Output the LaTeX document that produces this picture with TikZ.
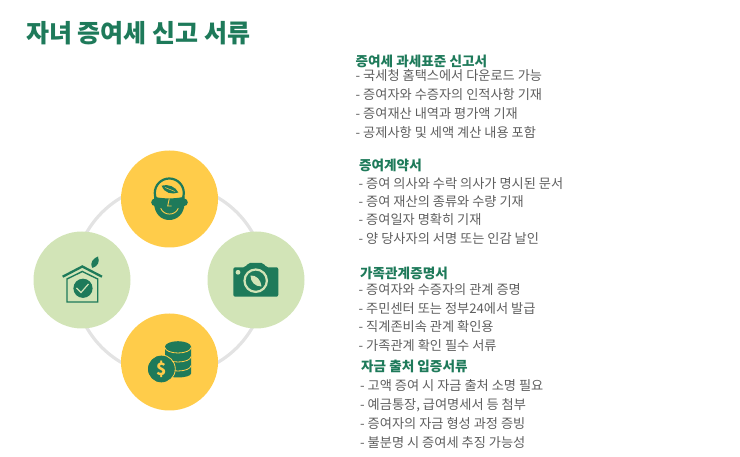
\documentclass[tikz,border=0pt]{standalone}
\usepackage{fontspec}
\usepackage{xcolor}
\setmainfont{Noto Sans CJK KR}
\definecolor{leafgreen}{HTML}{1E7A5A}
\definecolor{palegreen}{HTML}{D2E4B7}
\definecolor{sunyellow}{HTML}{FFCC4A}
\definecolor{ringgray}{HTML}{E3E3E3}
\definecolor{bodygray}{HTML}{5E5E5E}
\tikzset{
  titletext/.style={anchor=base west,inner sep=0pt,font=\fontsize{25}{25}\selectfont\bfseries,text=leafgreen},
  headtext/.style={anchor=base west,inner sep=0pt,yshift=-0.7pt,font=\fontsize{13.6}{14}\selectfont\bfseries,text=leafgreen},
  linetext/.style={anchor=base west,inner sep=0pt,yshift=-0.7pt,font=\fontsize{13.2}{14}\selectfont,text=bodygray},
  yellowdisc/.style={circle,fill=sunyellow,minimum size=97pt,inner sep=0pt},
  greendisc/.style={circle,fill=palegreen,minimum size=97pt,inner sep=0pt},
}

\begin{document}
\begin{tikzpicture}[x=1pt,y=-1pt]
\useasboundingbox (0,0) rectangle (740,457);

%title
\node[titletext] (title) at (26,42.5) {자녀 증여세 신고 서류};

%ring
\coordinate (ringcenter) at (169.5,280);
\draw[ringgray,line width=3.2pt] (ringcenter) circle[radius=95.5];

%discs
\node[yellowdisc] (top) at (169.5,199) {};
\node[greendisc] (right) at (256,280) {};
\node[yellowdisc] (bottom) at (169.5,362) {};
\node[greendisc] (left) at (82,280) {};

%head icon
\draw[leafgreen,line width=2.2pt] (169.3,193) circle[radius=14.5];
\fill[leafgreen] (154,196.5) .. controls (160,199) and (178,199) .. (184.5,196.5) -- (184.5,204)
  .. controls (184,214) and (177,220) .. (169.3,220) .. controls (161,220) and (155,214) .. (154,204) -- cycle;
\fill[leafgreen] (155,202.3) circle[radius=3.8] (184,202.3) circle[radius=3.8];
\fill[leafgreen] (161.7,185.7) .. controls (168,183.5) and (176,187) .. (178.3,192.5) .. controls (172,195) and (164,193) .. cycle;
\draw[sunyellow,line width=0.5pt] (165,187.5) -- (175,191.5);
\draw[sunyellow,line width=0.9pt] (169.3,198.5) -- (167.7,206) -- (171.7,206);
\draw[sunyellow,line width=0.9pt] (160.7,208.3) .. controls (164,216) and (175,216) .. (178.3,208.3);

%house icon
\draw[leafgreen,line width=2.3pt] (62.7,276.7) -- (82.3,266.5) -- (102,276.7);
\draw[leafgreen,line width=1.4pt] (67,302) -- (67,279) -- (82.3,271.5) -- (97.7,279) -- (97.7,302) -- cycle;
\fill[leafgreen] (83,288.3) circle[radius=9.6];
\draw[palegreen,line width=1.2pt] (76.5,288) -- (81,292.5) -- (88.5,284);
\fill[leafgreen] (92.5,268) .. controls (89,262) and (94,258) .. (98,256.5) .. controls (100,262) and (98,266) .. cycle;

%camera icon
\fill[leafgreen,rounded corners=2pt] (233.3,267.3) -- (245.5,267.3) -- (248,263) -- (263.5,263) -- (266,267.3)
  -- (278.3,267.3) -- (278.3,296.7) -- (233.3,296.7) -- cycle;
\fill[palegreen] (238,272.3) circle[radius=2.4];
\draw[palegreen,line width=2.2pt] (255.7,280.7) circle[radius=11.2];
\fill[palegreen] (250.5,275.5) .. controls (256,275) and (261,279.5) .. (261.5,286.5) .. controls (255,286.5) and (250.5,282) .. cycle;

%coins icon
\fill[leafgreen] (165,346.7) -- (165,373.5) arc[start angle=180,end angle=0,x radius=13,y radius=4] -- (191,346.7) -- cycle;
\fill[leafgreen] (178,346.7) ellipse[x radius=13,y radius=5.5];
\draw[sunyellow,line width=0.8pt] (165,347.5) arc[start angle=180,end angle=0,x radius=13,y radius=5.5];
\draw[sunyellow,line width=0.8pt] (165,356.5) arc[start angle=180,end angle=0,x radius=13,y radius=5.5];
\draw[sunyellow,line width=0.8pt] (165,365.5) arc[start angle=180,end angle=0,x radius=13,y radius=5.5];
\draw[leafgreen,fill=leafgreen] (161.3,369) circle[radius=13.3];
\draw[sunyellow,line width=0.8pt] (161.3,369) circle[radius=14];
\node[inner sep=0pt,text=sunyellow,font=\fontsize{17}{17}\selectfont\bfseries] (dollar) at (161.3,369) {\$};

%first block
\node[headtext] (headA) at (355.5,66) {증여세 과세표준 신고서};
\node[linetext] (lineAa) at (355.5,80) {- 국세청 홈택스에서 다운로드 가능};
\node[linetext] (lineAb) at (355.5,99) {- 증여자와 수증자의 인적사항 기재};
\node[linetext] (lineAc) at (355.5,118) {- 증여재산 내역과 평가액 기재};
\node[linetext] (lineAd) at (355.5,137) {- 공제사항 및 세액 계산 내용 포함};

%second block
\node[headtext] (headB) at (359,170) {증여계약서};
\node[linetext] (lineBa) at (358.5,187.5) {- 증여 의사와 수락 의사가 명시된 문서};
\node[linetext] (lineBb) at (358.5,206) {- 증여 재산의 종류와 수량 기재};
\node[linetext] (lineBc) at (358.5,224) {- 증여일자 명확히 기재};
\node[linetext] (lineBd) at (358.5,243) {- 양 당사자의 서명 또는 인감 날인};

%third block
\node[headtext] (headC) at (360,278) {가족관계증명서};
\node[linetext] (lineCa) at (358.5,294) {- 증여자와 수증자의 관계 증명};
\node[linetext] (lineCb) at (358.5,313) {- 주민센터 또는 정부24에서 발급};
\node[linetext] (lineCc) at (358.5,331) {- 직계존비속 관계 확인용};
\node[linetext] (lineCd) at (358.5,350) {- 가족관계 확인 필수 서류};

%fourth block
\node[headtext] (headD) at (361,371) {자금 출처 입증서류};
\node[linetext] (lineDa) at (360,390) {- 고액 증여 시 자금 출처 소명 필요};
\node[linetext] (lineDb) at (360,409) {- 예금통장, 급여명세서 등 첨부};
\node[linetext] (lineDc) at (360,428) {- 증여자의 자금 형성 과정 증빙};
\node[linetext] (lineDd) at (360,447) {- 불분명 시 증여세 추징 가능성};
\end{tikzpicture}
\end{document}
